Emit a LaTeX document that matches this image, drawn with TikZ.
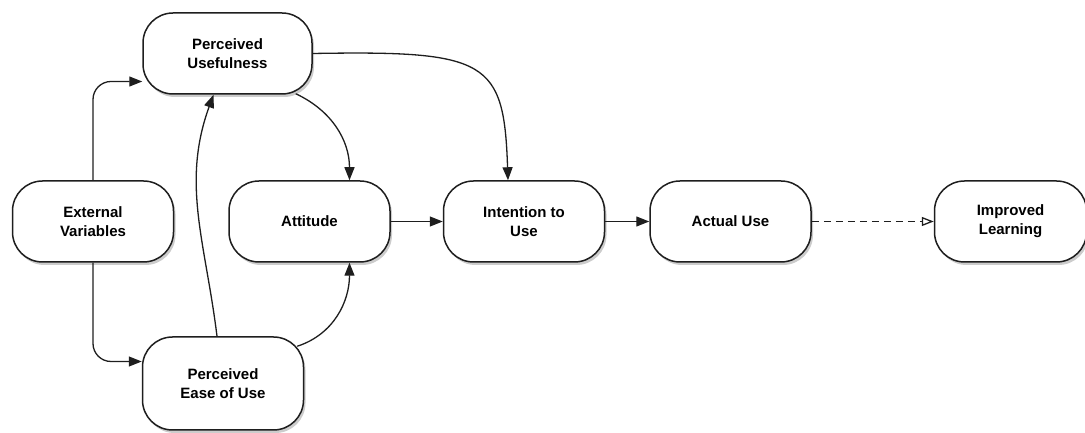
\documentclass[tikz,border=0pt]{standalone}
\usepackage{fontspec}
\setmainfont{Liberation Sans}
\usetikzlibrary{arrows.meta, positioning, calc, shadows}
\definecolor{meucinza}{RGB}{30, 30, 30}

\begin{document}
\begin{tikzpicture}[
                x=1pt, y=1pt,
                box/.style={draw=meucinza, line width=1.5pt, rounded corners=30pt, fill=white, minimum width=161pt, minimum height=81pt, inner sep=0pt, align=center, font=\fontsize{15}{19}\selectfont\bfseries, drop shadow={shadow xshift=2pt, shadow yshift=-3pt, opacity=0.4}},
                arrow/.style={-{Triangle[length=13pt, width=10pt]}, line width=1.3pt, color=meucinza},
                dasharrow/.style={-{Triangle[open, length=12pt, width=9pt]}, line width=1.3pt, color=meucinza, dash pattern=on 7pt off 5pt}
            ]
                \useasboundingbox (0,0) rectangle (1085,433);
                \node[box] (ev) at (93,211.5) {External\\Variables};
                \node[box, minimum width=169pt] (pu) at (227.5,379.5) {Perceived\\Usefulness};
                \node[box] (att) at (309.5,211.5) {Attitude};
                \node[box, minimum height=93pt] (peou) at (223,49.5) {Perceived\\Ease of Use};
                \node[box] (int) [right=52pt of att] {Intention to\\Use};
                \node[box] (act) [right=44pt of int] {Actual Use};
                \node[box, minimum width=152pt] (imp) [right=122pt of act] {Improved\\Learning};

                \draw[arrow, rounded corners=18pt] (ev.north) |- ($(pu.west)+(0,-28)$);
                \draw[arrow, rounded corners=18pt] (ev.south) |- ($(peou.west)+(0,22)$);
                \draw[arrow] ($(peou.north)+(-6,0)$) to[out=97, in=-110] ($(pu.south)+(-14,0)$);
                \draw[arrow] ($(pu.south east)+(-17,1)$) to[out=-25, in=90] ($(att.north)+(40,0)$);
                \draw[arrow] ($(peou.north east)+(-7,-10)$) to[out=18, in=-90] ($(att.south)+(40,0)$);
                \draw[arrow] (pu.east) .. controls +(175,3) and +(-4,120) .. ($(int.north)+(-16,0)$);
                \draw[arrow] (att) -- (int);
                \draw[arrow] (int) -- (act);
                \draw[dasharrow] (act) -- (imp);
            \end{tikzpicture}
\end{document}
